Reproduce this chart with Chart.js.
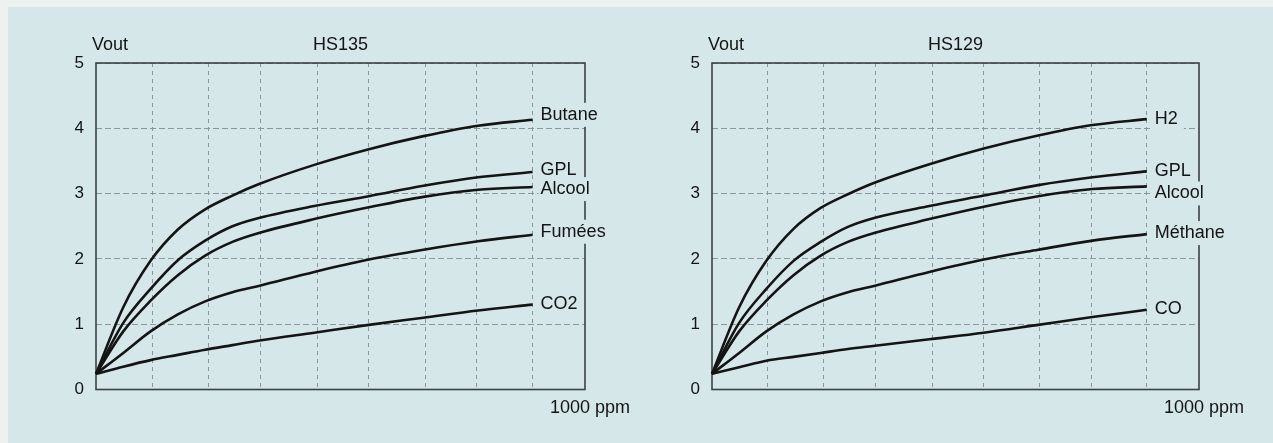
<!DOCTYPE html>
<html>
<head>
<meta charset="utf-8">
<script src="https://cdn.jsdelivr.net/npm/chart.js@4.4.1/dist/chart.umd.min.js"></script>
<style>
  html, body { margin: 0; padding: 0; background: #edf2f1; }
  #page { position: relative; width: 1273px; height: 443px; overflow: hidden; background: #edf2f1; }
  #panel { position: absolute; left: 8px; top: 7px; right: 0; bottom: 0; background: #d5e7e8; }
  canvas { position: absolute; top: 0; }
</style>
</head>
<body>
<div id="page">
  <div id="panel"></div>
  <canvas id="hs135" width="640" height="443" style="left:0;width:640px;height:443px"></canvas>
  <canvas id="hs129" width="637" height="443" style="left:636px;width:637px;height:443px"></canvas>
</div>
<script>
// Gas concentration steps along the horizontal axis
const concentration = [0, 0.5, 1, 1.5, 2, 2.5, 3, 4, 5, 6, 7, 8];
// Vertical dashed grid divisions
const gridDivisions = [1.03, 2.06, 3.01, 4.05, 5.0, 6.03, 6.98, 8];
// Output voltage ticks
const voltTicks = [0, 1, 2, 3, 4, 5];

// HS135 sensor response (Vout)
const hs135Gases = ['Butane', 'GPL', 'Alcool', 'Fumées', 'CO2'];
const hs135Butane = [0.24, 1.26, 1.97, 2.45, 2.76, 2.97, 3.15, 3.44, 3.68, 3.88, 4.04, 4.13];
const hs135Gpl    = [0.24, 1.02, 1.54, 1.98, 2.28, 2.50, 2.63, 2.81, 2.96, 3.12, 3.25, 3.33];
const hs135Alcool = [0.24, 0.89, 1.36, 1.75, 2.05, 2.26, 2.40, 2.61, 2.79, 2.95, 3.06, 3.10];
const hs135Fumees = [0.24, 0.56, 0.89, 1.15, 1.35, 1.49, 1.59, 1.80, 1.99, 2.14, 2.27, 2.37];
const hs135Co2    = [0.24, 0.35, 0.45, 0.53, 0.61, 0.68, 0.75, 0.87, 0.99, 1.10, 1.21, 1.30];

// HS129 sensor response (Vout)
const hs129Gases = ['H2', 'GPL', 'Alcool', 'Méthane', 'CO'];
const hs129H2      = [0.24, 1.26, 1.97, 2.46, 2.78, 2.99, 3.17, 3.45, 3.69, 3.89, 4.05, 4.14];
const hs129Gpl     = [0.24, 1.02, 1.54, 1.97, 2.26, 2.49, 2.63, 2.81, 2.97, 3.13, 3.25, 3.34];
const hs129Alcool  = [0.24, 0.89, 1.36, 1.75, 2.05, 2.26, 2.40, 2.61, 2.80, 2.96, 3.07, 3.11];
const hs129Methane = [0.24, 0.56, 0.89, 1.15, 1.35, 1.49, 1.59, 1.80, 1.99, 2.14, 2.28, 2.38];
const hs129Co      = [0.24, 0.34, 0.44, 0.50, 0.56, 0.62, 0.67, 0.77, 0.87, 0.99, 1.11, 1.22];

const X_MAX = 8.96;
const INK = '#141414';
const FRAME = '#3c4243';
const GRID = '#8b9799';
const PANEL_BG = '#d5e7e8';
const FONT = '"Liberation Sans", Arial, sans-serif';

// Frame around the plotting area
const framePlugin = {
  id: 'frame',
  beforeDatasetsDraw(chart) {
    const { ctx, chartArea: a } = chart;
    ctx.save();
    ctx.strokeStyle = FRAME;
    ctx.lineWidth = 1.6;
    ctx.strokeRect(a.left, a.top, a.right - a.left, a.bottom - a.top);
    ctx.restore();
  }
};

// Curve-end labels, title, axis captions
const textPlugin = {
  id: 'texts',
  afterDatasetsDraw(chart, args, opts) {
    const { ctx, chartArea: a } = chart;
    ctx.save();
    ctx.fillStyle = INK;
    ctx.font = '18px ' + FONT;
    ctx.textBaseline = 'middle';

    ctx.textAlign = 'center';
    ctx.fillText(opts.title, (a.left + a.right) / 2, 45);
    ctx.textAlign = 'left';
    ctx.fillText('Vout', a.left - 4, 45);
    ctx.fillText('1000 ppm', a.right - 35, 408);

    chart.data.datasets.forEach((ds, i) => {
      const pts = chart.getDatasetMeta(i).data;
      const end = pts[pts.length - 1];
      const tx = end.x + 8;
      const ty = end.y + opts.nudges[i];
      const w = ctx.measureText(ds.label).width;
      ctx.fillStyle = PANEL_BG;
      ctx.fillRect(tx - 2, ty - 12, w + 8, 24);
      ctx.fillStyle = INK;
      ctx.fillText(ds.label, tx, ty);
    });
    ctx.restore();
  }
};

function buildChart(canvasId, title, names, series, box, nudges) {
  const canvas = document.getElementById(canvasId);
  const W = canvas.width, H = canvas.height;
  return new Chart(canvas, {
    type: 'line',
    data: {
      datasets: series.map((vals, i) => ({
        label: names[i],
        data: concentration.map((x, j) => ({ x: x, y: vals[j] })),
        borderColor: INK,
        borderWidth: 2.6,
        pointRadius: 0,
        fill: false,
        cubicInterpolationMode: 'monotone',
        clip: false
      }))
    },
    options: {
      responsive: false,
      animation: false,
      devicePixelRatio: 1,
      layout: { padding: { left: 0, top: box.top, right: W - box.right, bottom: H - box.bottom } },
      plugins: {
        legend: { display: false },
        tooltip: { enabled: false },
        title: { display: false },
        texts: { title: title, nudges: nudges }
      },
      scales: {
        x: {
          type: 'linear', min: 0, max: X_MAX,
          afterBuildTicks: s => { s.ticks = gridDivisions.map(v => ({ value: v })); },
          afterFit: s => { s.height = 0; },
          ticks: { display: false },
          grid: { color: GRID, lineWidth: 1, drawTicks: false },
          border: { display: false, dash: [4, 4] }
        },
        y: {
          type: 'linear', min: 0, max: 5,
          afterBuildTicks: s => { s.ticks = voltTicks.map(v => ({ value: v })); },
          afterFit: s => { s.width = box.left; },
          ticks: { color: INK, font: { family: FONT, size: 17 }, padding: 12 },
          grid: { color: GRID, lineWidth: 1, drawTicks: false },
          border: { display: false, dash: [6, 3] }
        }
      }
    },
    plugins: [framePlugin, textPlugin]
  });
}

buildChart('hs135', 'HS135', hs135Gases,
  [hs135Butane, hs135Gpl, hs135Alcool, hs135Fumees, hs135Co2],
  { left: 96, top: 63, right: 585, bottom: 389.5 },
  [-5, -2, 2, -3, -1]);

buildChart('hs129', 'HS129', hs129Gases,
  [hs129H2, hs129Gpl, hs129Alcool, hs129Methane, hs129Co],
  { left: 76, top: 63, right: 563, bottom: 389.5 },
  [0, 0, 7, -1, -1]);
</script>
</body>
</html>
